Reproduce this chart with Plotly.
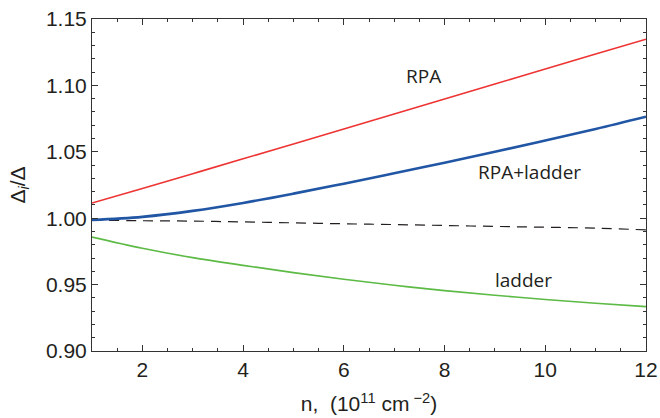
import plotly.graph_objects as go

n = [1, 2, 3, 4, 5, 6, 7, 8, 9, 10, 11, 12]
rpa = [1.0114, 1.0224, 1.0335, 1.0447, 1.0559, 1.0672, 1.0785, 1.0898, 1.1011, 1.1123, 1.1236, 1.1348]
rpa_ladder = [0.9986, 1.0010, 1.0055, 1.0115, 1.0185, 1.0260, 1.0338, 1.0418, 1.0500, 1.0585, 1.0672, 1.0764]
ladder = [0.9858, 0.9774, 0.9703, 0.9645, 0.9590, 0.9540, 0.9495, 0.9455, 0.9420, 0.9388, 0.9360, 0.9334]
ref_dashed = [0.9985, 0.9981, 0.9978, 0.9972, 0.9965, 0.9958, 0.9952, 0.9945, 0.9938, 0.9932, 0.9925, 0.9912]

labels = ["RPA", "RPA+ladder", "ladder"]
label_x = [7.59, 9.68, 9.56]
label_y = [1.1071, 1.0348, 0.9535]

fig = go.Figure()
fig.add_trace(go.Scatter(x=n, y=ref_dashed, mode="lines", line=dict(color="#231f20", width=1.2, dash="10px,7px"), line_shape="spline"))
fig.add_trace(go.Scatter(x=n, y=ladder, mode="lines", line=dict(color="#5cba45", width=1.6), line_shape="spline"))
fig.add_trace(go.Scatter(x=n, y=rpa, mode="lines", line=dict(color="#ee3333", width=1.6), line_shape="spline"))
fig.add_trace(go.Scatter(x=n, y=rpa_ladder, mode="lines", line=dict(color="#2156a5", width=2.6), line_shape="spline"))

for t, x, y in zip(labels, label_x, label_y):
    fig.add_annotation(x=x, y=y, text=t, showarrow=False,
                       font=dict(family="Open Sans", size=19, color="#231f20"))

tick_font = dict(family="Liberation Sans, Arial", size=21, color="#231f20")
axis_common = dict(
    showline=True, linecolor="#333333", linewidth=1, mirror="allticks",
    ticks="inside", ticklen=6, tickwidth=1, tickcolor="#333333",
    showgrid=False, zeroline=False, automargin=False,
    tickfont=tick_font,
)

fig.update_xaxes(range=[1, 12], tickvals=[2, 4, 6, 8, 10, 12],
                 minor=dict(dtick=0.5, tick0=1, ticklen=3, ticks="inside", tickcolor="#333333", showgrid=False),
                 title=dict(text="n,  (10<sup>11</sup> cm<sup> −2</sup>)", font=tick_font, standoff=16),
                 **axis_common)
fig.update_yaxes(range=[0.90, 1.15], tickvals=[0.90, 0.95, 1.00, 1.05, 1.10, 1.15], tickformat=".2f",
                 minor=dict(dtick=0.01, tick0=0.9, ticklen=3, ticks="inside", tickcolor="#333333", showgrid=False),
                 title=dict(text="Δ<sub><i>i</i></sub>/Δ", font=tick_font, standoff=14),
                 **axis_common)

fig.update_layout(
    width=660, height=418,
    margin=dict(l=92, r=14, t=19, b=67),
    paper_bgcolor="white", plot_bgcolor="white",
    showlegend=False,
)

fig.write_html("out.html", config={"displayModeBar": False},
               post_script="document.body.style.margin='0';document.body.style.overflow='hidden';")
